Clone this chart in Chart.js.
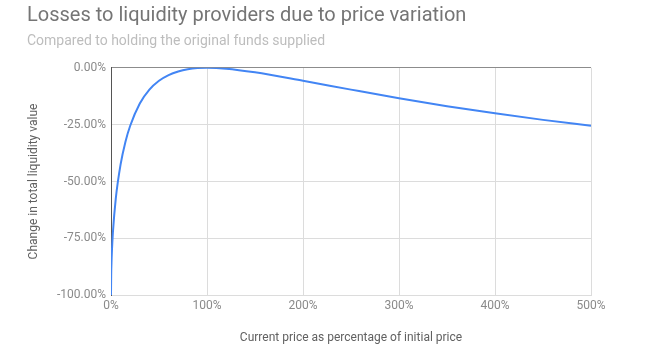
<!DOCTYPE html>
<html>
<head>
<meta charset="utf-8">
<script src="https://cdn.jsdelivr.net/npm/chart.js@4.4.1/dist/chart.umd.min.js"></script>
<style>
  html, body { margin: 0; padding: 0; background: #fff; }
  #wrap { width: 659px; height: 347px; }
</style>
</head>
<body>
<div id="wrap"><canvas id="myChart" width="659" height="347"></canvas></div>
<script>
// current price as % of initial price
let precos = [0, 0.2, 0.5, 1, 2, 5, 10, 15, 20, 30, 40, 50, 60, 70, 80, 90, 100, 120, 150, 200, 250, 300, 350, 400, 450, 500];
// change in total liquidity value (%)
let perdas = [-100, -91.1, -85.9, -80.2, -72.3, -57.4, -42.5, -32.6, -25.5, -15.7, -9.6, -5.7, -3.2, -1.6, -0.6, -0.1, 0, -0.4, -2.0, -5.7, -9.6, -13.4, -16.9, -20.0, -22.9, -25.5];
let ticksX = [0, 100, 200, 300, 400, 500];
let ticksY = [-100, -75, -50, -25, 0];

let pontos = precos.map((p, i) => ({ x: p, y: perdas[i] }));

let ctx = document.getElementById('myChart').getContext('2d');

let myChart = new Chart(ctx, {
    type: 'line',
    data: {
        datasets: [{
            data: pontos,
            borderColor: '#4285f4',
            borderWidth: 2,
            pointRadius: 0,
            cubicInterpolationMode: 'monotone',
            fill: false
        }]
    },
    options: {
        responsive: false,
        animation: false,
        layout: { padding: { left: 27, right: 68, top: 0, bottom: 2 } },
        plugins: {
            legend: { display: false },
            tooltip: { enabled: false },
            title: {
                display: true,
                text: 'Losses to liquidity providers due to price variation',
                align: 'start',
                color: '#757575',
                font: { family: 'Roboto', size: 20, weight: 'normal' },
                padding: { top: 4, bottom: 5 }
            },
            subtitle: {
                display: true,
                text: 'Compared to holding the original funds supplied',
                align: 'start',
                color: '#bdbdbd',
                font: { family: 'Roboto', size: 14 },
                padding: { top: 0, bottom: 18 }
            }
        },
        scales: {
            x: {
                type: 'linear',
                min: 0,
                max: 500,
                afterBuildTicks: (scale) => { scale.ticks = ticksX.map(v => ({ value: v })); },
                ticks: {
                    color: '#8a8a8a',
                    font: { family: 'Roboto', size: 12 },
                    padding: 4,
                    maxRotation: 0,
                    callback: (v) => v + '%'
                },
                grid: { color: '#dcdcdc', drawTicks: false },
                border: { color: '#dcdcdc' },
                title: {
                    display: true,
                    text: 'Current price as percentage of initial price',
                    color: '#616161',
                    font: { family: 'Roboto', size: 12 },
                    padding: { top: 13, bottom: 0 }
                }
            },
            y: {
                min: -100,
                max: 0,
                afterBuildTicks: (scale) => { scale.ticks = ticksY.map(v => ({ value: v })); },
                afterFit: (scale) => { scale.width = 84; },
                ticks: {
                    color: '#8a8a8a',
                    font: { family: 'Roboto', size: 12 },
                    padding: 5,
                    callback: (v) => v.toFixed(2) + '%'
                },
                grid: {
                    color: (c) => c.tick && c.tick.value === 0 ? '#8c8c8c' : '#dcdcdc',
                    drawTicks: false
                },
                border: { color: '#555' },
                title: {
                    display: true,
                    text: 'Change in total liquidity value',
                    color: '#616161',
                    font: { family: 'Roboto', size: 12 },
                    padding: { top: 0, bottom: 0 }
                }
            }
        }
    }
})
</script>
</body>
</html>
